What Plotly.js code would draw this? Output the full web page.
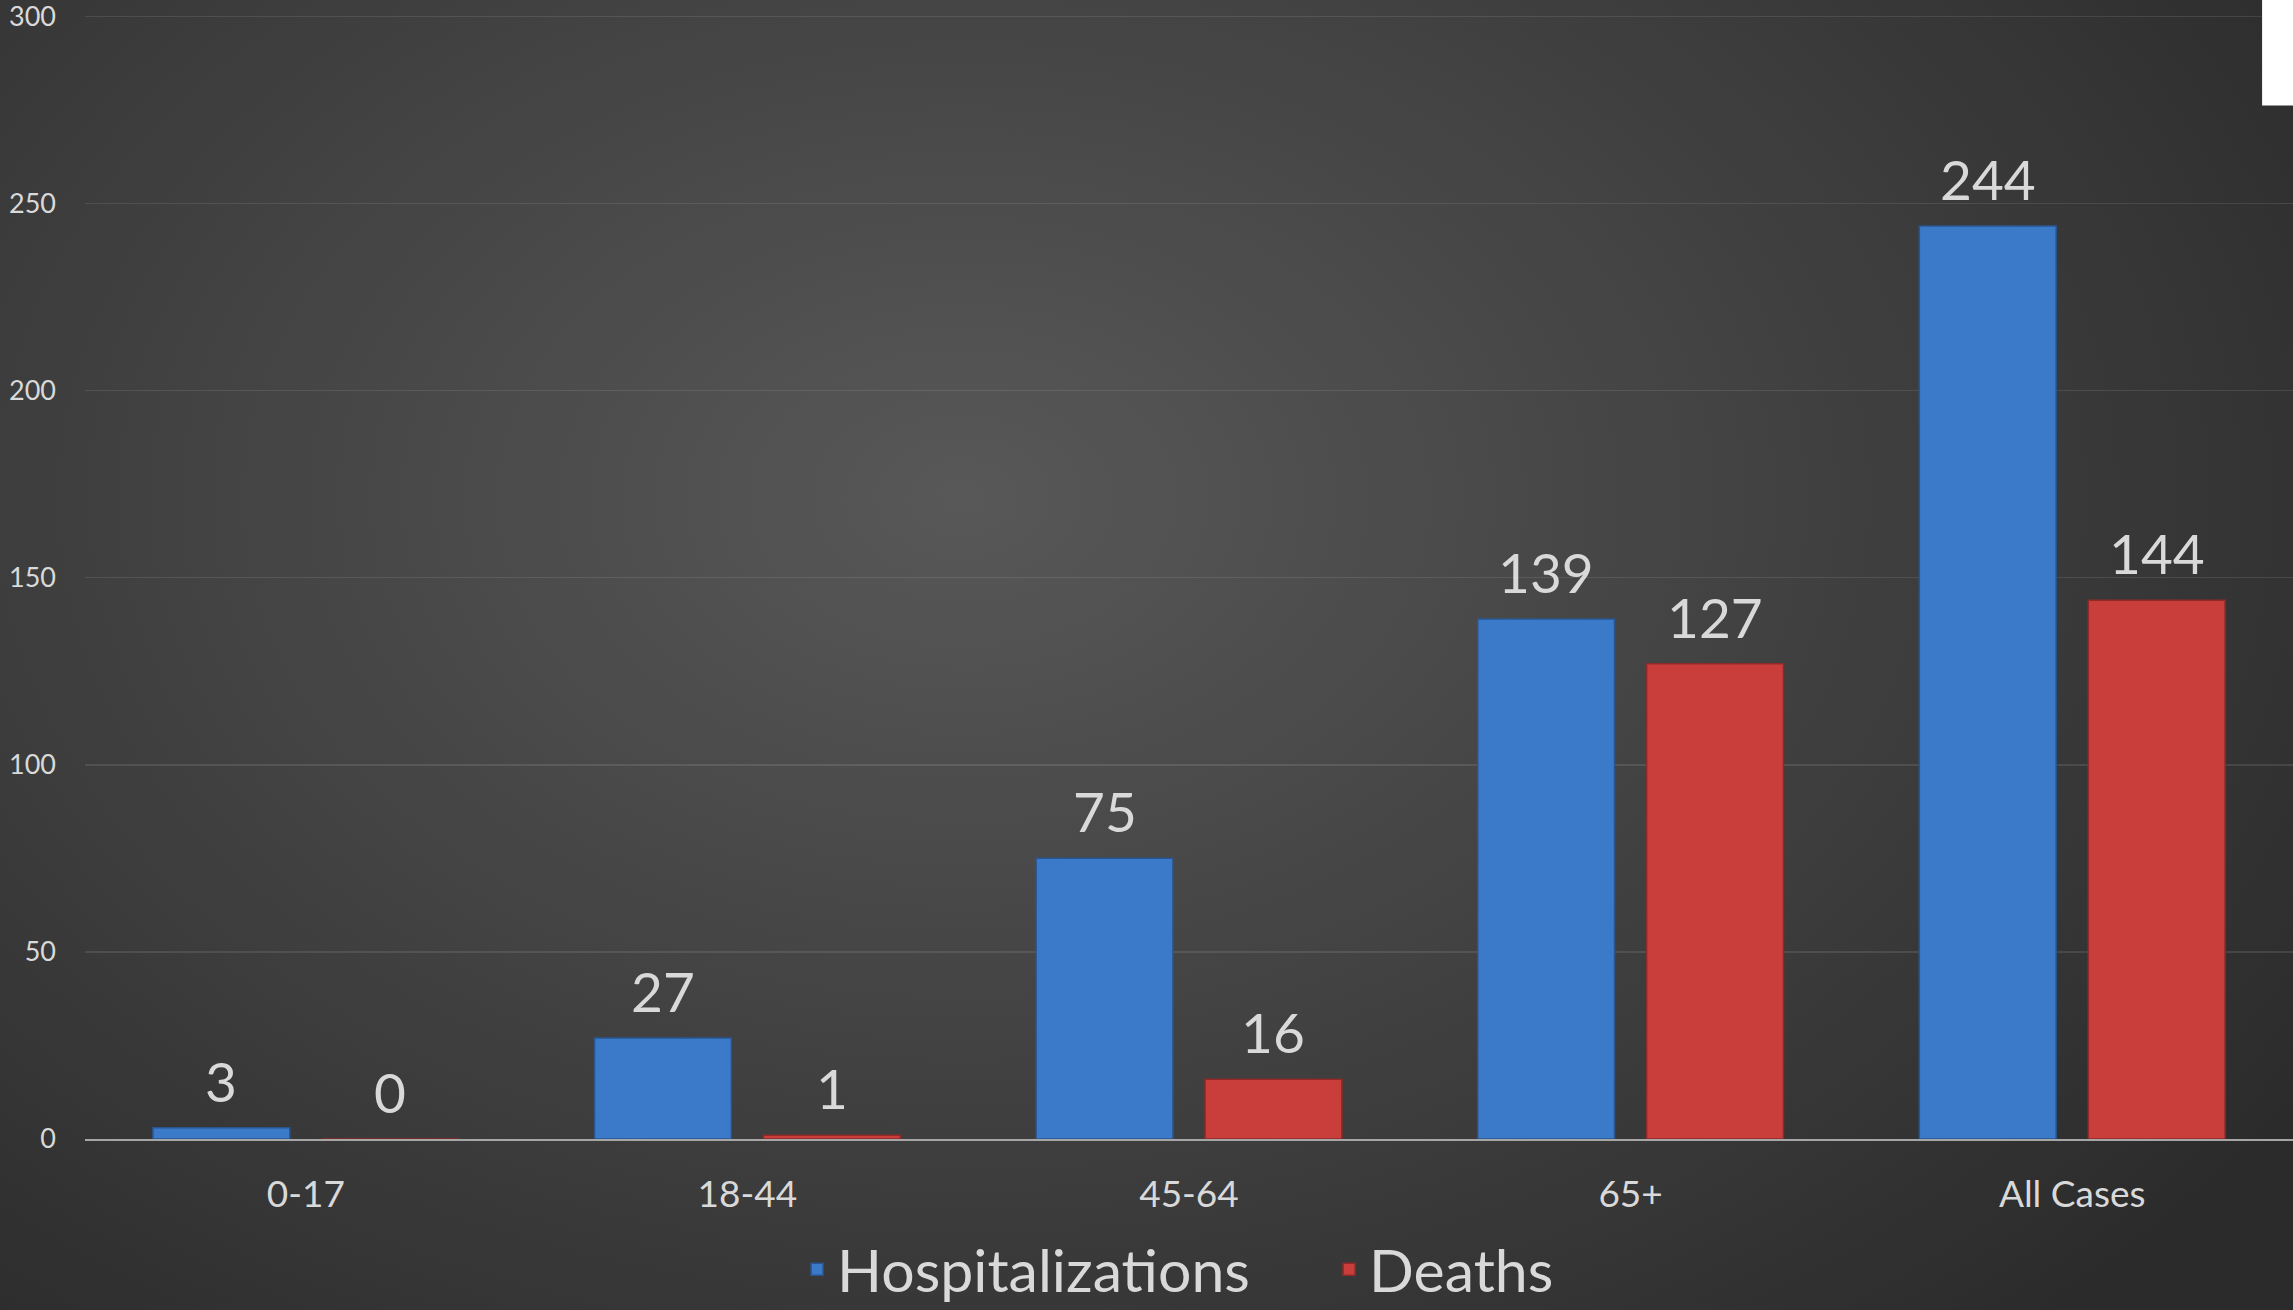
<!DOCTYPE html>
<html>
<head>
<meta charset="utf-8">
<script src="https://cdn.plot.ly/plotly-3.0.1.min.js"></script>
<style>
  html, body { margin: 0; padding: 0; }
  body { width: 2293px; height: 1310px; overflow: hidden;
    background: radial-gradient(ellipse 70% 85% at 42% 38%, #585858 0%, #444444 45%, #2b2b2b 100%); }
  #chart { width: 2293px; height: 1310px; }
</style>
</head>
<body>
<div id="chart"></div>
<script>
const categories = ["0-17", "18-44", "45-64", "65+", "All Cases"];
const hospitalizations = [3, 27, 75, 139, 244];
const deaths = [0, 1, 16, 127, 144];
const seriesNames = ["Hospitalizations", "Deaths"];
const yTicks = [0, 50, 100, 150, 200, 250, 300];

const W = 2293, H = 1310;
const M = {l: 85, r: 0, t: 8.5, b: 171};
const catWidthPx = (W - M.l - M.r) / categories.length;
const bargap = 0.235, bargroupgap = 0.19;
const slotPx = catWidthPx * (1 - bargap) / 2;
const offPx = slotPx / 2;

const blue = "#3b79c9", red = "#c93e3b";
const textColor = "#d9d9d9";

const traces = [
  {type: "bar", name: seriesNames[0], x: categories, y: hospitalizations,
   marker: {color: blue, line: {color: "#2a5590", width: 1.5}}, hoverinfo: "none"},
  {type: "bar", name: seriesNames[1], x: categories, y: deaths,
   marker: {color: red, line: {color: "#8f2a28", width: 1.5}}, hoverinfo: "none"}
];

const annotations = [];
[hospitalizations, deaths].forEach((vals, si) => {
  vals.forEach((v, i) => {
    annotations.push({
      x: categories[i], y: v, xref: "x", yref: "y",
      text: String(v), showarrow: false,
      xshift: si === 0 ? -offPx : offPx, yshift: 47,
      yanchor: "middle", xanchor: "center",
      font: {family: "Lato, 'Open Sans', sans-serif", size: 55, color: textColor}
    });
  });
});

const layout = {
  width: W, height: H,
  margin: M,
  paper_bgcolor: "rgba(0,0,0,0)",
  plot_bgcolor: "rgba(0,0,0,0)",
  barmode: "group",
  bargap: bargap, bargroupgap: bargroupgap,
  font: {family: "Lato, 'Open Sans', sans-serif", color: textColor},
  xaxis: {
    type: "category", showgrid: false, zeroline: false,
    showline: true, linecolor: "#a6a6a6", linewidth: 2,
    ticks: "", tickfont: {size: 37, color: textColor},
    ticklabelstandoff: 22, fixedrange: true, automargin: false
  },
  yaxis: {
    range: [0, 302], tickvals: yTicks, ticktext: yTicks.map(String),
    showgrid: true, gridcolor: "rgba(255,255,255,0.10)", gridwidth: 1.5,
    zeroline: false, showline: false, ticks: "",
    tickfont: {size: 27, color: textColor}, ticklabelstandoff: 28, fixedrange: true,
    automargin: false, ticklabeloverflow: "allow"
  },
  showlegend: true,
  legend: {
    orientation: "h", x: 0.3225, xanchor: "left", xref: "paper",
    y: 0.031, yanchor: "middle", yref: "container",
    font: {size: 59, color: textColor}, bgcolor: "rgba(0,0,0,0)",
    entrywidth: 487, entrywidthmode: "pixels", traceorder: "normal"
  },
  annotations: annotations,
  shapes: [{type: "rect", xref: "paper", yref: "paper",
    x0: 0.986, x1: 1.01, y0: 0.9146, y1: 1.02,
    fillcolor: "#ffffff", line: {width: 0}, layer: "above"}]
};

Plotly.newPlot("chart", traces, layout, {displayModeBar: false, staticPlot: true});
</script>
</body>
</html>
